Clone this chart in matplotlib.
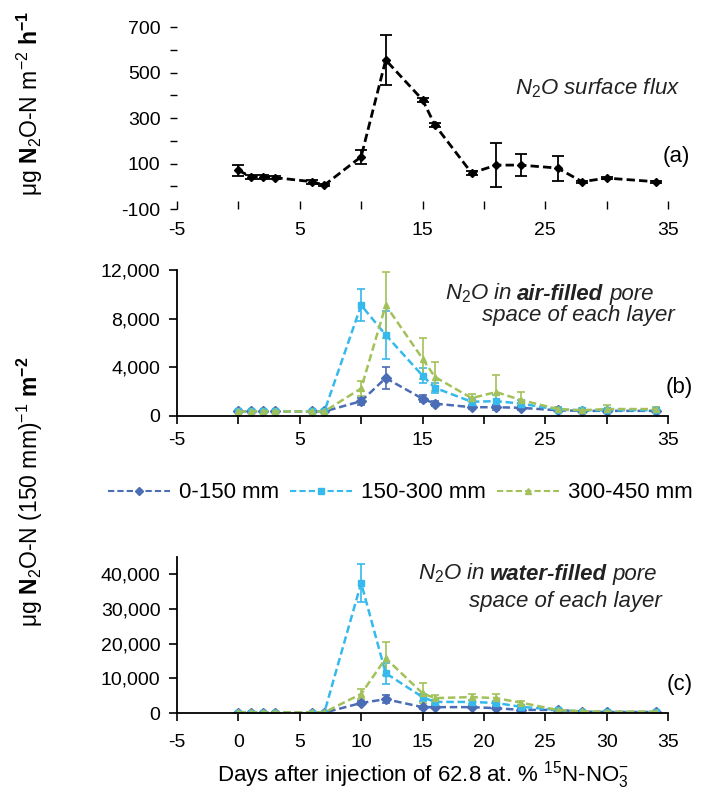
import matplotlib
matplotlib.use("Agg")
import matplotlib.pyplot as plt
from matplotlib.lines import Line2D
from matplotlib.ticker import MultipleLocator

plt.rcParams['font.family'] = ['Liberation Sans', 'DejaVu Sans']
plt.rcParams['mathtext.fontset'] = 'custom'
plt.rcParams['mathtext.rm'] = 'Liberation Sans'
plt.rcParams['mathtext.it'] = 'Liberation Sans:italic'
plt.rcParams['mathtext.bf'] = 'Liberation Sans:bold'
plt.rcParams['axes.unicode_minus'] = False

# sampling days
days = [0, 1, 2, 3, 6, 7, 10, 12, 15, 16, 19, 21, 23, 26, 28, 30, 34]

# (a) surface flux, ug N2O-N m-2 h-1
flux = [70, 42, 42, 38, 20, 5, 130, 555, 380, 270, 58, 93, 93, 80, 20, 36, 20]
flux_err = [25, 8, 8, 8, 8, 5, 30, 110, 10, 10, 8, 95, 48, 55, 5, 5, 5]

# (b) air-filled pore space
air_0_150 = [350, 350, 350, 350, 350, 350, 1200, 3100, 1400, 1000, 700, 700, 650, 450, 400, 400, 400]
air_0_150_err = [50, 50, 50, 50, 50, 50, 300, 900, 300, 200, 150, 200, 150, 100, 50, 50, 50]
air_150_300 = [350, 350, 350, 350, 350, 350, 9100, 6650, 3300, 2300, 1150, 1200, 1000, 500, 450, 450, 450]
air_150_300_err = [50, 50, 50, 50, 50, 50, 1300, 2000, 600, 400, 300, 500, 300, 150, 100, 100, 100]
air_300_450 = [350, 350, 350, 350, 350, 350, 2250, 9100, 4700, 3200, 1450, 1950, 1300, 550, 450, 550, 550]
air_300_450_err = [50, 50, 50, 50, 50, 50, 600, 2700, 1700, 1200, 300, 1400, 650, 200, 150, 300, 200]

# (c) water-filled pore space
water_0_150 = [100, 100, 100, 100, 100, 100, 2900, 4000, 1700, 1700, 1700, 1400, 900, 900, 400, 300, 300]
water_0_150_err = [50, 50, 50, 50, 50, 50, 500, 1200, 400, 300, 300, 300, 200, 200, 100, 100, 100]
water_150_300 = [150, 150, 150, 150, 150, 150, 37500, 11500, 4600, 3200, 3200, 2900, 1800, 900, 400, 300, 300]
water_150_300_err = [50, 50, 50, 50, 50, 50, 5400, 3000, 1000, 600, 600, 600, 400, 200, 100, 100, 100]
water_300_450 = [200, 200, 200, 200, 200, 200, 5500, 15800, 5700, 4300, 4600, 4300, 3000, 900, 500, 400, 400]
water_300_450_err = [50, 50, 50, 50, 50, 50, 1500, 4700, 2900, 1000, 800, 1300, 600, 200, 100, 100, 100]

layers = ['0-150 mm', '150-300 mm', '300-450 mm']
colors = ['#4a6db5', '#36b9ec', '#a3c15a']
markers = ['D', 's', '^']

a_ticks = [-100, 100, 300, 500, 700]
b_ticks = [0, 4000, 8000, 12000]
b_ticklabels = ['0', '4,000', '8,000', '12,000']
c_ticks = [0, 10000, 20000, 30000, 40000]
c_ticklabels = ['0', '10,000', '20,000', '30,000', '40,000']

fig = plt.figure(figsize=(7.15, 7.99), dpi=100)
left, width = 0.2476, 0.6867
ax_a = fig.add_axes([left, 0.7384, width, 0.2278])
ax_b = fig.add_axes([left, 0.4797, width, 0.1824])
ax_c = fig.add_axes([left, 0.1076, width, 0.1952])

fs_tick = 14
fs_txt = 16
txt_color = '#222222'

# ---- panel a
ax_a.errorbar(days, flux, yerr=flux_err, color='black', ls=(0, (3, 1.5)), lw=2,
              marker='D', ms=4, capsize=4, elinewidth=1.3, capthick=1.3)
ax_a.set_xlim(-5, 35)
ax_a.set_ylim(-100, 700)
ax_a.set_yticks(a_ticks)
ax_a.yaxis.set_minor_locator(MultipleLocator(100))
ax_a.set_xticks([-5, 5, 15, 25, 35])
ax_a.xaxis.set_minor_locator(MultipleLocator(5))
for s in ax_a.spines.values():
    s.set_visible(False)
ax_a.tick_params(axis='y', which='both', direction='out', length=5, width=1, labelsize=fs_tick, pad=7)
ax_a.tick_params(axis='x', which='both', direction='in', length=6, width=1, labelsize=fs_tick, pad=9)
ax_a.text(1.024, 0.665, '$N_2O$ surface flux', transform=ax_a.transAxes, ha='right', va='center',
          fontsize=fs_txt, style='italic', color=txt_color)
ax_a.text(1.045, 0.286, '(a)', transform=ax_a.transAxes, ha='right', va='center', fontsize=fs_txt)


def layer_panel(ax, series, errs, ymax, ticks, ticklabels, every_label):
    for vals, err, c, m, lab in zip(series, errs, colors, markers, layers):
        ax.errorbar(days, vals, yerr=err, color=c, ls=(0, (3, 1.5)), lw=1.8, marker=m, ms=5,
                    capsize=3, elinewidth=1.2, capthick=1.2, label=lab)
    ax.set_xlim(-5, 35)
    ax.set_ylim(0, ymax)
    ax.set_yticks(ticks)
    ax.set_yticklabels(ticklabels)
    ax.set_xticks(list(range(-5, 36, 5)))
    ax.set_xticklabels([str(v) if (every_label or v % 10 == 5) else '' for v in range(-5, 36, 5)])
    ax.spines['top'].set_visible(False)
    ax.spines['right'].set_visible(False)
    ax.spines['left'].set_linewidth(1.3)
    ax.spines['bottom'].set_linewidth(1.3)
    ax.tick_params(direction='out', length=6, width=1.2, labelsize=fs_tick, pad=6)


layer_panel(ax_b, [air_0_150, air_150_300, air_300_450],
            [air_0_150_err, air_150_300_err, air_300_450_err],
            12000, b_ticks, b_ticklabels, False)
layer_panel(ax_c, [water_0_150, water_150_300, water_300_450],
            [water_0_150_err, water_150_300_err, water_300_450_err],
            45000, c_ticks, c_ticklabels, True)
ax_c.tick_params(axis='x', pad=9)


def pore_label(ax, x1, y1, x2, y2, word):
    t1 = ax.text(x1, y1, '$N_2O$ in', transform=ax.transAxes, ha='left', va='center',
                 fontsize=fs_txt, style='italic', color=txt_color)
    t2 = ax.annotate(word, xy=(1, 0), xycoords=t1, xytext=(4, 0), textcoords='offset points',
                     ha='left', va='bottom', fontsize=fs_txt, style='italic', weight='bold',
                     color=txt_color, annotation_clip=False)
    ax.annotate('pore', xy=(1, 0), xycoords=t2, xytext=(4, 0), textcoords='offset points',
                ha='left', va='bottom', fontsize=fs_txt, style='italic', color=txt_color,
                annotation_clip=False)
    ax.text(x2, y2, 'space of each layer', transform=ax.transAxes, ha='center', va='center',
            fontsize=fs_txt, style='italic', color=txt_color)


pore_label(ax_b, 0.545, 0.84, 0.817, 0.685, 'air-filled')
ax_b.text(1.05, 0.197, '(b)', transform=ax_b.transAxes, ha='right', va='center', fontsize=fs_txt)
pore_label(ax_c, 0.49, 0.897, 0.79, 0.718, 'water-filled')
ax_c.text(1.05, 0.18, '(c)', transform=ax_c.transAxes, ha='right', va='center', fontsize=fs_txt)

ax_c.set_xlabel('Days after injection of 62.8 at. % $^{15}$N-NO$_3^{-}$', fontsize=fs_txt, labelpad=6)

fig.text(0.042, 0.871, r'μg $\mathbf{N}_2$O-N m$^{-2}$ $\mathbf{h^{-1}}$', rotation=90,
         ha='center', va='center', fontsize=16.5)
fig.text(0.042, 0.384, r'μg $\mathbf{N}_2$O-N (150 mm)$^{-1}$ $\mathbf{m^{-2}}$', rotation=90,
         ha='center', va='center', fontsize=16.5)

handles = [Line2D([], [], color=c, ls=(0, (3, 1.5)), lw=1.5, marker=m, ms=4)
           for c, m in zip(colors, markers)]
fig.legend(handles, layers, loc='center', bbox_to_anchor=(0.56, 0.383), ncol=3, frameon=False,
           fontsize=fs_txt, handlelength=2.8, columnspacing=0.5, handletextpad=0.4)

fig.savefig('out.png', dpi=100)
